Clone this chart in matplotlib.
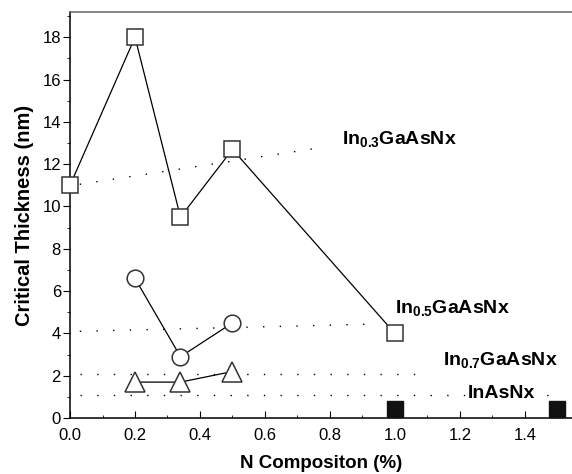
import numpy as np
import matplotlib.pyplot as plt
from matplotlib.ticker import MultipleLocator

plt.rcParams['font.family'] = ['Liberation Sans', 'DejaVu Sans']

# In0.3GaAsNx (open squares)
x_sq = [0.0, 0.2, 0.34, 0.5, 1.0]
y_sq = [11.0, 18.0, 9.5, 12.7, 4.0]
# In0.5GaAsNx (open circles)
x_ci = [0.2, 0.34, 0.5]
y_ci = [6.6, 2.9, 4.5]
# In0.7GaAsNx (open triangles)
x_tr = [0.2, 0.34, 0.5]
y_tr = [1.7, 1.7, 2.2]
# InAsNx (filled squares)
x_fs = [1.0, 1.5]
y_fs = [0.45, 0.45]

# dotted guide lines (x0, x1, y0, y1)
guide_x = [[0.03, 0.78], [0.03, 0.95], [0.03, 1.1], [0.03, 1.5]]
guide_y = [[11.05, 12.8], [4.1, 4.45], [2.1, 2.1], [1.1, 1.1]]

# series labels
lab_text = [r'In$_{\mathregular{0.3}}$GaAsNx', r'In$_{\mathregular{0.5}}$GaAsNx',
            r'In$_{\mathregular{0.7}}$GaAsNx', 'InAsNx']
lab_x = [0.837, 1.0, 1.148, 1.225]
lab_y = [12.94, 4.96, 2.5, 0.96]

fig = plt.figure(figsize=(5.72, 4.74), dpi=100)
ax = fig.add_axes([0.1224, 0.118, 0.8776, 0.857])

for gx, gy in zip(guide_x, guide_y):
    ax.plot(gx, gy, color='black', lw=1, linestyle=(0, (1, 11)), zorder=1)

ax.plot(x_sq, y_sq, color='black', lw=0.9, marker='s', ms=11.5,
        mfc='white', mec='#333333', mew=1.1, zorder=3, clip_on=False)
ax.plot(x_ci, y_ci, color='black', lw=0.9, marker='o', ms=12,
        mfc='white', mec='#333333', mew=1.1, zorder=3)
ax.plot(x_tr, y_tr, color='black', lw=0.9, marker='^', ms=14,
        mfc='white', mec='#333333', mew=1.1, zorder=3)
ax.plot(x_fs, y_fs, linestyle='none', marker='s', ms=11,
        mfc='#111111', mec='#111111', zorder=3, clip_on=False)

plt.rcParams['mathtext.default'] = 'regular'
for t, lx, ly in zip(lab_text, lab_x, lab_y):
    ax.text(lx, ly, t, fontsize=14, fontweight='bold', va='baseline', ha='left',
            zorder=2, bbox=dict(facecolor='white', edgecolor='none', pad=0.5))

ax.set_xlim(0.0, 1.545)
ax.set_ylim(0, 19.2)
ax.xaxis.set_major_locator(MultipleLocator(0.2))
ax.xaxis.set_minor_locator(MultipleLocator(0.1))
ax.yaxis.set_major_locator(MultipleLocator(2))
ax.yaxis.set_minor_locator(MultipleLocator(1))
ax.xaxis.set_major_formatter(plt.FuncFormatter(lambda v, p: f'{v:.1f}'))

ax.tick_params(axis='x', which='both', direction='in', labelsize=12, pad=7)
ax.tick_params(axis='x', which='major', length=5)
ax.tick_params(axis='x', which='minor', length=2.5)
ax.tick_params(axis='y', which='both', direction='out', labelsize=12, pad=1.5)
ax.tick_params(axis='y', which='major', length=5)
ax.tick_params(axis='y', which='minor', length=2.5)

ax.spines['right'].set_visible(False)
for s in ['left', 'bottom', 'top']:
    ax.spines[s].set_linewidth(1.1)
ax.spines['top'].set_color('#666666')

ax.set_xlabel('N Compositon (%)', fontsize=13.5, fontweight='bold', labelpad=9)
ax.set_ylabel('Critical Thickness (nm)', fontsize=14.5, fontweight='bold', labelpad=6)

fig.savefig('out.png', dpi=100)
